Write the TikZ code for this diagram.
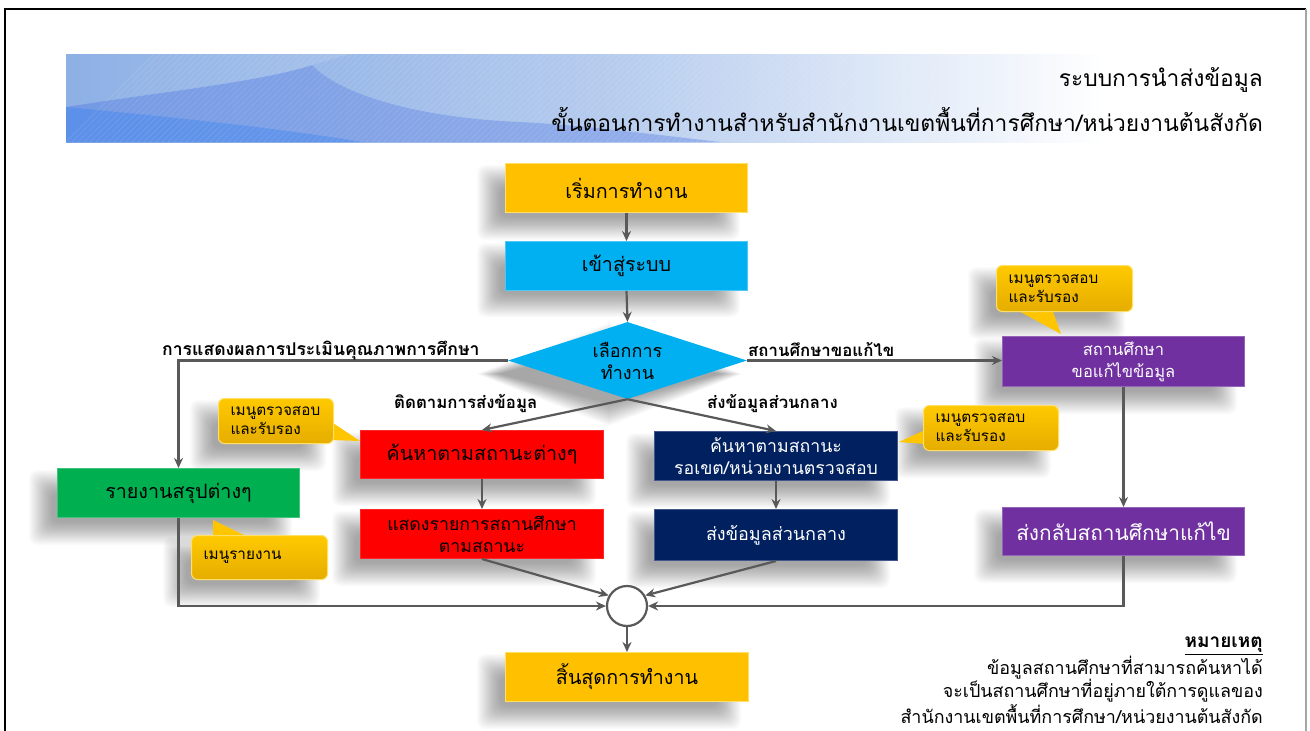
\documentclass[tikz,border=0pt]{standalone}
\usepackage{fontspec}
\setmainfont{Loma}[Script=Thai]
\usetikzlibrary{arrows.meta,shapes.geometric,calc}
\definecolor{linegray}{HTML}{595959}
\definecolor{gold}{HTML}{FFC000}
\definecolor{goldedge}{HTML}{FFE066}
\definecolor{skyb}{HTML}{00B0F0}
\definecolor{navyb}{HTML}{002060}
\definecolor{purp}{HTML}{7030A0}
\definecolor{greenb}{HTML}{00B050}
\definecolor{redb}{HTML}{FF0000}
\definecolor{bannerA}{HTML}{7EA6E2}
\definecolor{bannerB}{HTML}{B9CEEF}
\newcommand{\softshadow}[4]{%
  \foreach \d in {13,12,...,-10}{%
    \fill[black,opacity=.017,rounded corners=8pt]
      ({#1-15-\d},{#2+15-\d}) rectangle ({#3-20+\d},{#4+15+\d});}}
\tikzset{
  x=1pt,y=-1pt,
  flowbox/.style={draw,line width=1pt,minimum width=242pt,minimum height=49pt,inner sep=0pt,align=center,anchor=north west,font=\fontsize{19.7}{26}\selectfont},
  twoline/.style={font=\fontsize{17.7}{22}\selectfont},
  goldbox/.style={flowbox,fill=gold,draw=goldedge,text=black},
  skybox/.style={flowbox,fill=skyb,draw=skyb!70!white,text=black},
  redbox/.style={flowbox,fill=redb,draw=redb!85!white,text=black},
  navybox/.style={flowbox,fill=navyb,draw=navyb!75!white,text=white},
  purpbox/.style={flowbox,fill=purp,draw=purp!75!white,text=white},
  greenbox/.style={flowbox,fill=greenb,draw=greenb!75!white,text=black},
  flowline/.style={draw=linegray,line width=2.2pt,-{Stealth[length=10pt,width=9pt]}},
  calloutbox/.style={rounded corners=6pt,draw=goldedge,line width=1pt,top color=gold!85!yellow,bottom color=gold!90!black,inner sep=0pt,anchor=north west,align=left,text=black,font=\fontsize{15.3}{19}\selectfont},
  calltail/.style={fill=gold!92!yellow,draw=none},
  edgelabel/.style={inner sep=0pt,anchor=west,font=\bfseries\fontsize{16.8}{18}\selectfont,text=black},
  notetext/.style={inner sep=0pt,anchor=east,font=\fontsize{17.9}{20}\selectfont,text=black},
  titletext/.style={inner sep=0pt,anchor=east,font=\fontsize{22.8}{26}\selectfont,text=black}
}
\begin{document}
\begin{tikzpicture}
\useasboundingbox (0,0) rectangle (1310,731);
\fill[white] (0,0) rectangle (1310,731);
% frame
\draw[line width=1.6pt,black] (5,731) -- (5,9) -- (1306,9);
\draw[line width=1.6pt,gray!70] (1306,9) -- (1306,731);
% banner
\begin{scope}
\clip (66,54) rectangle (1105,142);
\shade[left color=bannerA,right color=bannerB] (66,54) rectangle (640,142);
\shade[left color=bannerB,right color=white] (640,54) rectangle (1105,142);
\fill[bannerA!85!blue,opacity=.5] (66,107) .. controls (160,92) and (260,82) .. (312,65) .. controls (340,95) and (420,118) .. (520,122) .. controls (580,125) and (650,134) .. (720,142) -- (66,142) -- cycle;
\fill[white,opacity=.12] (66,54) -- (350,54) -- (312,65) .. controls (260,82) and (160,92) .. (66,107) -- cycle;
\fill[blue!60!cyan!50!bannerA,opacity=.45] (66,107) .. controls (160,116) and (280,128) .. (362,142) -- (66,142) -- cycle;
\foreach \s in {66,72,...,960}{\draw[white,opacity=.07,line width=1.5pt] (\s,142) -- (\s+88,54);}
\end{scope}
% shadows
\foreach \a/\b/\c/\e in {505/163/747/212,505/241/747/289,360/430/603/478,360/509/603/558,654/431/897/480,654/509/897/560,57/468/299/517,1002/336/1244/386,1002/507/1244/555,505/652/748/701,218/398/333/443,191/535/327/579,923/405/1058/450,996/265/1132/311}{\softshadow{\a}{\b}{\c}{\e}}
\foreach \d in {13,12,...,-10}{\fill[black,opacity=.017] (508-\d-18,360+14) -- (627-18,322+14-\d) -- (747-18+\d,360+14) -- (627-18,399+14+\d) -- cycle;}
% titles
\node[titletext] (t1) at (1263,80) {ระบบการนำส่งข้อมูล};
\node[titletext] (t2) at (1263,119) {ขั้นตอนการทำงานสำหรับสำนักงานเขตพื้นที่การศึกษา/หน่วยงานต้นสังกัด};
% nodes
\node[goldbox] (start) at (505,163) {เริ่มการทำงาน};
\node[skybox] (login) at (505,241) {เข้าสู่ระบบ};
\node[shape=diamond,fill=skyb,minimum width=239pt,minimum height=77pt,inner sep=0pt] (choose) at (627.5,360.5) {};
\node[inner sep=0pt,align=center,text=black,font=\fontsize{18}{22}\selectfont] (chooseText) at (choose.center) {เลือกการ\\ทำงาน};
\node[redbox,minimum width=243pt,minimum height=48pt] (red1) at (360,430) {ค้นหาตามสถานะต่างๆ};
\node[redbox,minimum width=243pt,twoline] (red2) at (360,509) {แสดงรายการสถานศึกษา\\ตามสถานะ};
\node[navybox,minimum width=243pt,twoline] (navy1) at (654,431) {ค้นหาตามสถานะ\\รอเขต/หน่วยงานตรวจสอบ};
\node[navybox,minimum width=243pt,minimum height=51pt,font=\fontsize{18}{22}\selectfont] (navy2) at (654,509) {ส่งข้อมูลส่วนกลาง};
\node[greenbox] (green) at (57,468) {รายงานสรุปต่างๆ};
\node[purpbox,minimum height=50pt,font=\fontsize{16.5}{22}\selectfont] (pur1) at (1002,336) {สถานศึกษา\\ขอแก้ไขข้อมูล};
\node[purpbox,minimum height=48pt,font=\fontsize{20.8}{26}\selectfont] (pur2) at (1002,507) {ส่งกลับสถานศึกษาแก้ไข};
\node[goldbox,minimum width=243pt] (finish) at (505,652) {สิ้นสุดการทำงาน};
\node[circle,draw=linegray,line width=2.2pt,fill=white,minimum size=40pt,inner sep=0pt] (merge) at (627,606) {};
% callouts
\coordinate (tipA) at (360,441);
\coordinate (tipB) at (213,520);
\coordinate (tipC) at (899,442);
\coordinate (tipD) at (1061,334);
\fill[calltail] (330,421) -- (tipA) -- (330,440) -- cycle;
\fill[calltail] (213,537) -- (tipB) -- (248,537) -- cycle;
\fill[calltail] (925,430) -- (tipC) -- (925,444) -- cycle;
\fill[calltail] (1015,309) -- (tipD) -- (1052,309) -- cycle;
\node[calloutbox,minimum width=115pt,minimum height=45pt,text width=115pt] (callA) at (218,398) {\hspace*{12pt}เมนูตรวจสอบ\\\hspace*{12pt}และรับรอง};
\node[calloutbox,minimum width=136pt,minimum height=44pt,text width=136pt] (callB) at (191,535) {\hspace*{12pt}เมนูรายงาน};
\node[calloutbox,minimum width=135pt,minimum height=45pt,text width=135pt] (callC) at (923,405) {\hspace*{12pt}เมนูตรวจสอบ\\\hspace*{12pt}และรับรอง};
\node[calloutbox,minimum width=136pt,minimum height=46pt,text width=136pt] (callD) at (996,265) {\hspace*{12pt}เมนูตรวจสอบ\\\hspace*{12pt}และรับรอง};
% connectors
\draw[flowline] (start.south) -- (login.north);
\draw[flowline] (login.south) -- (choose.north);
\draw[flowline] (choose.west) -| (green.north);
\draw[flowline] (choose.south) -- (red1.north);
\draw[flowline] (choose.south) -- (navy1.north);
\draw[flowline] (choose.east) -- (pur1.west |- choose.east);
\draw[flowline] (red1.south) -- (red2.north);
\draw[flowline] (navy1.south) -- (navy2.north);
\draw[flowline] (pur1.south) -- (pur2.north);
\draw[flowline] (red2.south) -- (merge.150);
\draw[flowline] (navy2.south) -- (merge.30);
\draw[flowline] (green.south) |- (merge.west);
\draw[flowline] (pur2.south) |- (merge.east);
\draw[flowline] (merge.south) -- (finish.north);
% edge labels
\node[edgelabel,font=\bfseries\fontsize{17.6}{18}\selectfont] (l1) at (162,351) {การแสดงผลการประเมินคุณภาพการศึกษา};
\node[edgelabel] (l2) at (748,350) {สถานศึกษาขอแก้ไข};
\node[edgelabel] (l3) at (394,404) {ติดตามการส่งข้อมูล};
\node[edgelabel] (l4) at (707,404) {ส่งข้อมูลส่วนกลาง};
% note
\node[notetext,font=\bfseries\fontsize{19}{20}\selectfont] (n0) at (1263,646) {\underline{หมายเหตุ}};
\node[notetext] (n1) at (1263,668) {ข้อมูลสถานศึกษาที่สามารถค้นหาได้};
\node[notetext] (n2) at (1263,691) {จะเป็นสถานศึกษาที่อยู่ภายใต้การดูแลของ};
\node[notetext] (n3) at (1263,714) {สำนักงานเขตพื้นที่การศึกษา/หน่วยงานต้นสังกัด};
\end{tikzpicture}
\end{document}
